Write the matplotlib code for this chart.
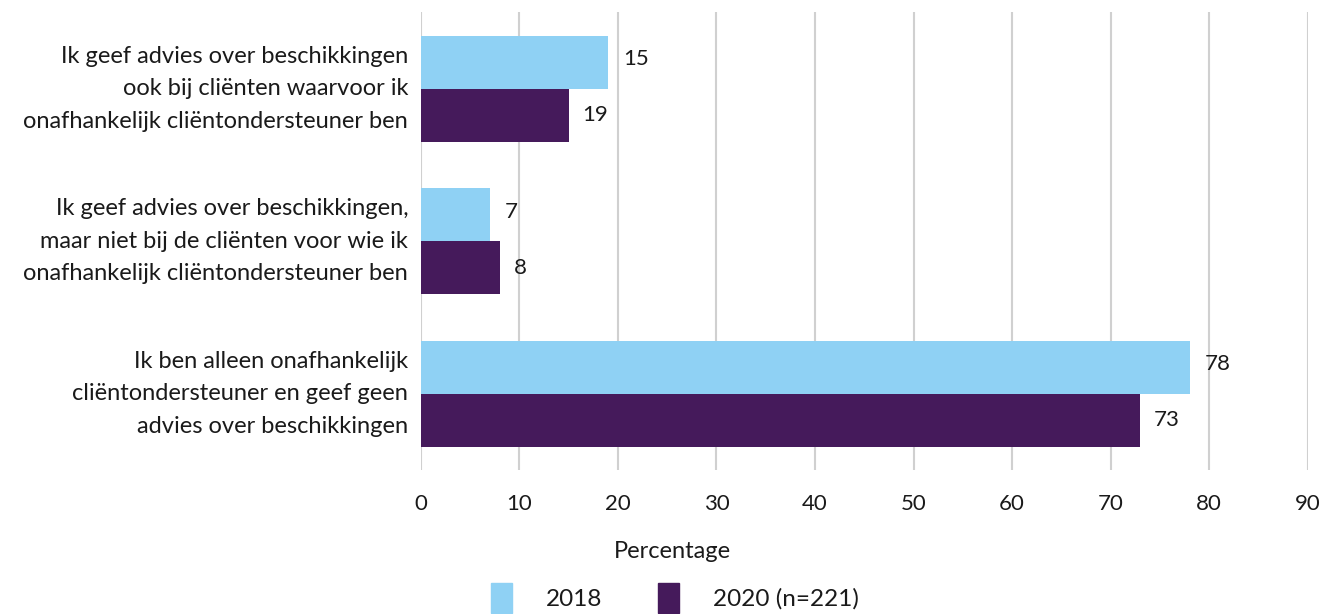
import numpy as np
import matplotlib
matplotlib.use("Agg")
import matplotlib.pyplot as plt
from matplotlib.patches import Patch

plt.rcParams['font.family'] = ['Lato', 'DejaVu Sans']

# data
categories = [
    "Ik geef advies over beschikkingen\nook bij cliënten waarvoor ik\nonafhankelijk cliëntondersteuner ben",
    "Ik geef advies over beschikkingen,\nmaar niet bij de cliënten voor wie ik\nonafhankelijk cliëntondersteuner ben",
    "Ik ben alleen onafhankelijk\ncliëntondersteuner en geef geen\nadvies over beschikkingen",
]
vals_2018 = [19, 7, 78]
vals_2020 = [15, 8, 73]
# labels as printed in the source chart
labels_2018 = ["15", "7", "78"]
labels_2020 = ["19", "8", "73"]
series_names = ["2018", "2020 (n=221)"]
xticks = list(range(0, 100, 10))

c_2018 = "#8fd1f4"
c_2020 = "#451a5b"
txt = "#1a1a1a"

fig = plt.figure(figsize=(13.23, 6.14), dpi=100)
ax = fig.add_axes([0.318, 0.2345, 0.6705, 0.7455])

y = np.arange(len(categories))
h = 0.347
ax.barh(y - h / 2, vals_2018, height=h, color=c_2018, zorder=2)
ax.barh(y + h / 2, vals_2020, height=h, color=c_2020, zorder=2)

for yi, v, l in zip(y, vals_2018, labels_2018):
    ax.annotate(l, (v, yi - h / 2), xytext=(11, 2), textcoords="offset points",
                va="center", ha="left", fontsize=16, color=txt)
for yi, v, l in zip(y, vals_2020, labels_2020):
    ax.annotate(l, (v, yi + h / 2), xytext=(10, 0), textcoords="offset points",
                va="center", ha="left", fontsize=16, color=txt)

ax.set_xlim(0, 90)
ax.set_ylim(2.5, -0.5)
ax.set_xticks(xticks)
ax.set_xticklabels([str(t) for t in xticks], fontsize=16, color=txt)
ax.set_yticks(y)
ax.set_yticklabels(categories, fontsize=17, color=txt, linespacing=1.68)
for lab in ax.get_yticklabels():
    lab.set_va("center")
ax.tick_params(axis="x", length=0, pad=17)
ax.tick_params(axis="y", length=0, pad=9)
ax.grid(axis="x", color="#d0d0d0", linewidth=1.5, zorder=0)
for s in ax.spines.values():
    s.set_visible(False)

fig.text(0.508, 1 - 552 / 614, "Percentage", ha="center", va="center",
         fontsize=17, color=txt)

handles = [Patch(color=c_2018), Patch(color=c_2020)]
fig.legend(handles, series_names, loc="upper center", bbox_to_anchor=(0.51, 1 - 583 / 614),
           ncol=2, frameon=False, fontsize=17.5, handlelength=0.85, handleheight=1.5,
           handletextpad=1.4, columnspacing=2.3, borderaxespad=0, borderpad=0,
           labelcolor=txt)

fig.savefig("out.png", dpi=100)
